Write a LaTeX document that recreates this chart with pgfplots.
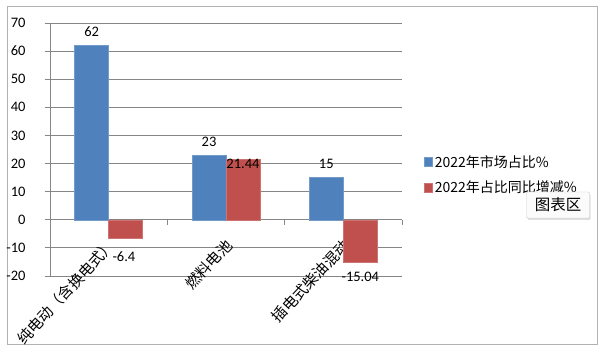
\documentclass[border=0pt]{standalone}
\usepackage{pgfplots}
\pgfplotsset{compat=1.18}
\usepackage{fontspec}
\setmainfont{Carlito}
\newfontfamily\cjk{Noto Sans CJK SC}
\usetikzlibrary{shadows}
\definecolor{xblue}{HTML}{4F81BD}
\definecolor{xred}{HTML}{C0504D}
\definecolor{gridc}{HTML}{868686}

\begin{document}
\begin{tikzpicture}
\fill[white] (0pt,0pt) rectangle (600pt,353pt);
\useasboundingbox (0pt,0pt) rectangle (600pt,353pt);
\draw[gray!60, line width=1pt] (7pt,8pt) rectangle (597pt,346pt);
\begin{axis}[
  at={(50pt,77pt)}, anchor=south west,
  scale only axis, width=352pt, height=253pt,
  xmin=-0.5, xmax=2.5, ymin=-20, ymax=70,
  ytick={-20,-10,...,70},
  xtick={0,1,2},
  xticklabels={纯电动（含换电式）,燃料电池,插电式柴油混动},
  axis line style={draw=none},
  ymajorgrids, grid style={draw=gridc, line width=0.8pt},
  tick align=outside, major tick length=5pt,
  xtick style={draw=none},
  ytick pos=left,
  ytick style={draw=gridc, line width=0.8pt},
  /pgf/number format/assume math mode=true,
  yticklabel style={font=\fontsize{14.5}{16}\selectfont, xshift=-16pt},
  xticklabel style={font=\cjk\fontsize{15}{15}\selectfont, yshift=45pt, xshift=-2pt, rotate=47, anchor=north east, inner sep=1pt},
  ybar=0pt, bar width=34pt,
  legend style={at={(1.063,0.40)}, anchor=west, draw=none, fill=none,
    font=\cjk\fontsize{14}{16}\selectfont, row sep=8pt, inner sep=0pt,
    nodes={inner xsep=2pt}},
  legend cell align=left,
  legend image code/.code={\fill[#1] (0pt,-4.5pt) rectangle (8pt,4.5pt);},
  clip=false,
]
\addplot[fill=xblue, draw=xblue!80!white, line width=0.5pt,
  nodes near coords, nodes near coords style={font=\fontsize{14.5}{16}\selectfont, anchor=south, yshift=5pt}]
  coordinates {(0,62) (1,23) (2,15)};
\addlegendentry{2022年市场占比\%}
\addplot[fill=xred, draw=xred!80!white, line width=0.5pt]
  coordinates {(0,-6.4) (1,21.44) (2,-15.04)};
\addlegendentry{2022年占比同比增减\%}
\draw[gridc, line width=0.8pt] (axis cs:-0.5,-20) -- (axis cs:-0.5,70);
\draw[gridc, line width=0.8pt] (axis cs:0.5,0) -- ++(0pt,-5pt);
\draw[gridc, line width=0.8pt] (axis cs:1.5,0) -- ++(0pt,-5pt);
\draw[gridc, line width=0.8pt] (axis cs:2.5,0) -- ++(0pt,-5pt);
\begin{scope}[font=\fontsize{14.5}{16}\selectfont]
\node at (axis cs:0.13,-6.4) [yshift=-19pt] {-6.4};
\node at (axis cs:1.145,21.44) [yshift=-4pt] {21.44};
\node at (axis cs:2.145,-15.04) [yshift=-15pt] {-15.04};
\end{scope}
\end{axis}
\node[draw=gray!40, fill=gray!3, rounded corners=1pt, minimum width=63pt, minimum height=26pt,
  drop shadow={shadow xshift=1pt, shadow yshift=-2pt, opacity=0.25, fill=gray},
  font=\cjk\fontsize{15.5}{16}\selectfont] at (558pt,148pt) {图表区};
\end{tikzpicture}
\end{document}
